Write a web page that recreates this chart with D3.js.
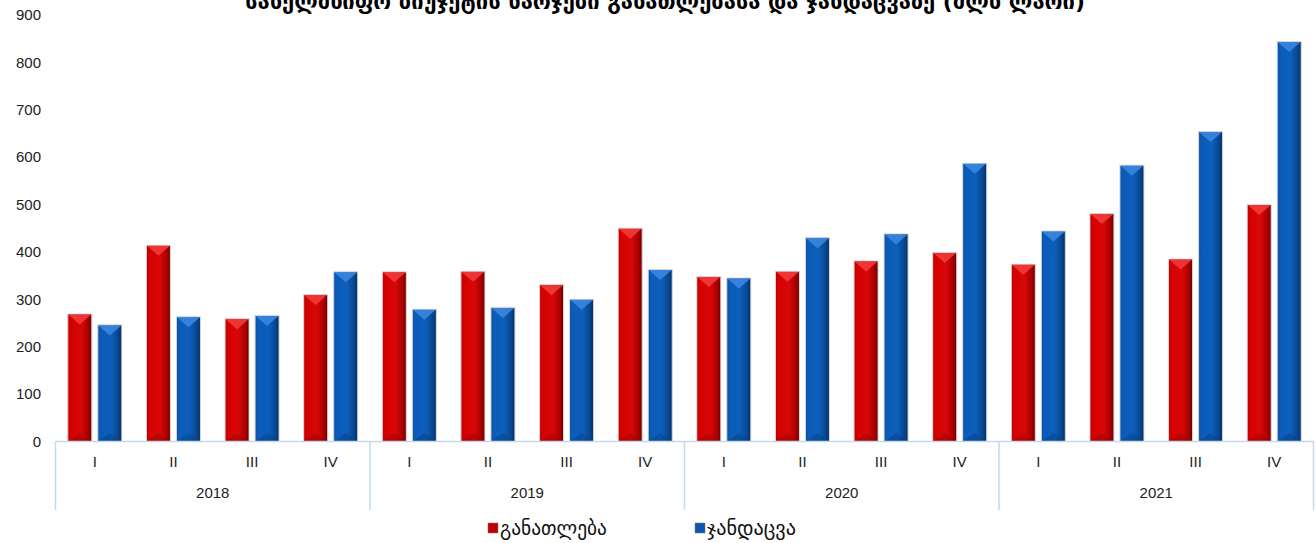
<!DOCTYPE html>
<html>
<head>
<meta charset="utf-8">
<script src="https://cdn.jsdelivr.net/npm/d3@7"></script>
<style>
  html, body { margin: 0; padding: 0; background: #fff; }
  svg { display: block; }
</style>
</head>
<body>
<svg id="chart" width="1316" height="543"></svg>
<script>
const title = "სახელმწიფო ბიუჯეტის ხარჯები განათლებასა და ჯანდაცვაზე (მლნ ლარი)";
const years = ["2018", "2019", "2020", "2021"];
const quarters = ["I", "II", "III", "IV"];
const seriesNames = ["განათლება", "ჯანდაცვა"];
const education = [269, 414, 259, 310, 358, 359, 331, 450, 348, 359, 381, 399, 374, 481, 385, 500];
const health    = [246, 263, 266, 358, 279, 283, 300, 363, 345, 430, 438, 587, 444, 583, 654, 844];
const yTicks = [0, 100, 200, 300, 400, 500, 600, 700, 800, 900];

const svg = d3.select("#chart");
const plotL = 55.5, plotR = 1313.5, baseY = 441.5, topY = 15;
const labelFont = "Liberation Sans, Arial, sans-serif";
const labelSize = 15;

const cats = [];
years.forEach(y => quarters.forEach(q => cats.push(y + "-" + q)));

const x0 = d3.scaleBand().domain(cats).range([plotL, plotR]).paddingInner(0).paddingOuter(0);
const x1 = d3.scaleBand().domain(seriesNames).range([0, x0.bandwidth()]).paddingInner(0.2).paddingOuter(0.41);
const y = d3.scaleLinear().domain([0, 900]).range([baseY, topY]);

// gradients
const defs = svg.append("defs");
function grad(id, stops) {
  const g = defs.append("linearGradient").attr("id", id).attr("x1", "0%").attr("x2", "100%").attr("y1", "0%").attr("y2", "0%");
  stops.forEach(s => g.append("stop").attr("offset", s[0]).attr("stop-color", s[1]));
}
grad("gRed", [["0%", "#b80000"], ["12%", "#d50000"], ["55%", "#d80808"], ["85%", "#a80000"], ["100%", "#6e0000"]]);
grad("gBlue", [["0%", "#0a4fa0"], ["12%", "#0b5cb8"], ["55%", "#0d5fbc"], ["85%", "#08468f"], ["100%", "#042e63"]]);
const colors = { "განათლება": { fill: "url(#gRed)", top: "#f23a3a", bot: "#9a0000", legend: "#c00000" },
                 "ჯანდაცვა": { fill: "url(#gBlue)", top: "#3a86e0", bot: "#063d7e", legend: "#0b57b0" } };

// y axis labels
svg.append("g").selectAll("text").data(yTicks).join("text")
  .attr("x", 41).attr("y", d => y(d)).attr("dy", "0.35em")
  .attr("text-anchor", "end")
  .attr("font-family", labelFont).attr("font-size", labelSize).attr("fill", "#222")
  .text(d => d);

// bars
const data = cats.map((c, i) => ({ cat: c, vals: [{ s: seriesNames[0], v: education[i] }, { s: seriesNames[1], v: health[i] }] }));
const groups = svg.append("g").selectAll("g").data(data).join("g")
  .attr("transform", d => `translate(${x0(d.cat)},0)`);
const bars = groups.selectAll("g").data(d => d.vals).join("g");
bars.append("rect")
  .attr("x", d => x1(d.s)).attr("y", d => y(d.v))
  .attr("width", x1.bandwidth()).attr("height", d => baseY - y(d.v))
  .attr("fill", d => colors[d.s].fill)
  .attr("stroke", "#d8d8d8").attr("stroke-width", 1);
bars.append("path")
  .attr("d", d => {
    const xa = x1(d.s) + 0.5, w = x1.bandwidth() - 1, t = y(d.v) + 0.5;
    return `M${xa},${t} L${xa + w},${t} L${xa + w * 0.5},${t + 10} Z`;
  })
  .attr("fill", d => colors[d.s].top).attr("opacity", 0.9);
bars.append("path")
  .attr("d", d => {
    const xa = x1(d.s) + 0.5, w = x1.bandwidth() - 1, b = baseY - 0.5;
    return `M${xa},${b} L${xa + w},${b} L${xa + w * 0.5},${b - 8} Z`;
  })
  .attr("fill", d => colors[d.s].bot).attr("opacity", 0.45);

// category axis
const axisColor = "#c5d9ee";
const axG = svg.append("g");
axG.append("line").attr("x1", plotL).attr("x2", plotR).attr("y1", baseY).attr("y2", baseY)
  .attr("stroke", axisColor).attr("stroke-width", 1.5);
const yearBounds = years.map(yr => x0(yr + "-I")).concat([plotR]);
axG.selectAll("line.sep").data(yearBounds).join("line").attr("class", "sep")
  .attr("x1", d => d).attr("x2", d => d).attr("y1", baseY).attr("y2", 510)
  .attr("stroke", axisColor).attr("stroke-width", 1.5);
axG.selectAll("text.q").data(cats).join("text").attr("class", "q")
  .attr("x", d => x0(d) + x0.bandwidth() / 2).attr("y", 462).attr("dy", "0.35em")
  .attr("text-anchor", "middle")
  .attr("font-family", labelFont).attr("font-size", labelSize).attr("fill", "#222")
  .text(d => d.split("-")[1]);
axG.selectAll("text.yr").data(years).join("text").attr("class", "yr")
  .attr("x", d => x0(d + "-I") + x0.bandwidth() * 2).attr("y", 493).attr("dy", "0.35em")
  .attr("text-anchor", "middle")
  .attr("font-family", labelFont).attr("font-size", labelSize).attr("fill", "#222")
  .text(d => d);

// legend
const legendX = [488, 695];
const legendW = [107, 89];
const lg = svg.append("g").selectAll("g").data(seriesNames).join("g")
  .attr("transform", (d, i) => `translate(${legendX[i]},528)`);
lg.append("rect").attr("x", 0).attr("y", -5).attr("width", 10).attr("height", 10)
  .attr("fill", d => colors[d].legend).attr("stroke", "#777").attr("stroke-width", 0.5);
lg.append("text").attr("x", 12).attr("y", 0).attr("dy", "0.35em")
  .attr("font-family", "DejaVu Sans, sans-serif").attr("font-size", 18).attr("fill", "#111")
  .text(d => d)
  .each(function(d, i) {
    const l = this.getComputedTextLength();
    if (l > 0) d3.select(this).attr("font-size", 18 * legendW[i] / l);
  });

// title (clipped at top as in the original)
const tt = svg.append("text")
  .attr("x", 665).attr("y", 9)
  .attr("text-anchor", "middle")
  .attr("font-family", "DejaVu Sans, sans-serif").attr("font-weight", "bold").attr("font-size", 19)
  .attr("fill", "#000")
  .text(title);
const len = tt.node().getComputedTextLength();
if (len > 0) tt.attr("font-size", 19 * 840 / len);
</script>
</body>
</html>
